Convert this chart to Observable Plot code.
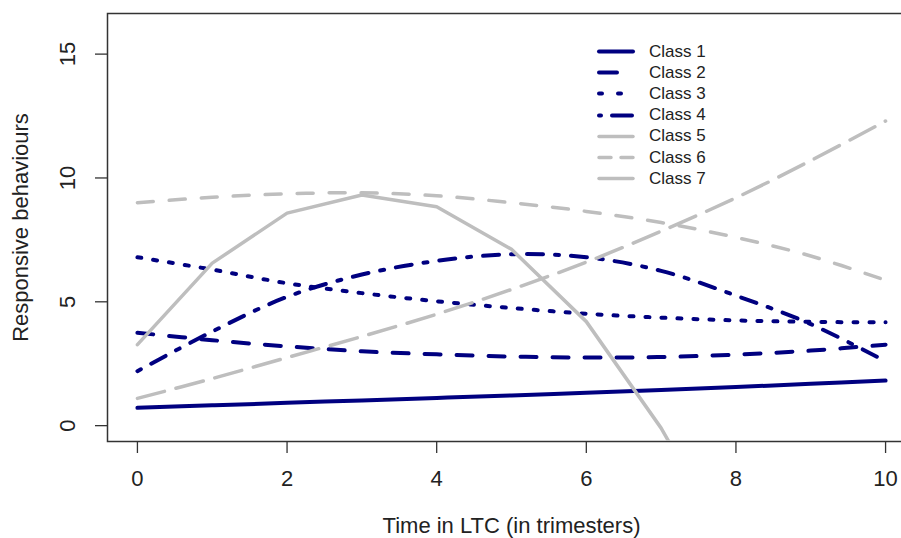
<!DOCTYPE html>
<html>
<head>
<meta charset="utf-8">
<script src="https://cdn.jsdelivr.net/npm/d3@7"></script>
<script src="https://cdn.jsdelivr.net/npm/@observablehq/plot@0.6"></script>
<style>
  html, body { margin: 0; padding: 0; background: #fff; }
  #wrap { position: relative; width: 901px; height: 538px; font-family: "Liberation Sans", Arial, Helvetica, sans-serif; }
  #legend { position: absolute; left: 595px; top: 41px; }
  .row { display: flex; align-items: center; height: 21.2px; }
  .row svg { display: block; margin-right: 12px; }
  .row span { font-size: 17px; color: #222; }
</style>
</head>
<body>
<div id="wrap"><div id="legend"></div></div>
<script>
const times = [0, 1, 2, 3, 4, 5, 6, 7, 8, 9, 10];
const class1 = [0.72, 0.82, 0.92, 1.02, 1.12, 1.22, 1.33, 1.44, 1.56, 1.69, 1.82];
const class2 = [3.75, 3.45, 3.2, 3.0, 2.88, 2.79, 2.75, 2.77, 2.87, 3.03, 3.27];
const class3 = [6.8, 6.3, 5.75, 5.35, 5.02, 4.75, 4.52, 4.36, 4.25, 4.19, 4.17];
const class4 = [2.2, 3.8, 5.2, 6.1, 6.65, 6.92, 6.8, 6.25, 5.25, 4.1, 2.6];
const class5 = [3.27, 6.56, 8.58, 9.31, 8.84, 7.12, 4.2, -0.1, -5.4];
const class6 = [9.0, 9.22, 9.36, 9.4, 9.28, 9.0, 8.65, 8.2, 7.6, 6.85, 5.87];
const class7 = [1.1, 1.9, 2.75, 3.6, 4.5, 5.5, 6.6, 7.85, 9.2, 10.7, 12.3];
const classNames = ["Class 1", "Class 2", "Class 3", "Class 4", "Class 5", "Class 6", "Class 7"];
const xTicks = [0, 2, 4, 6, 8, 10];
const yTicks = [0, 5, 10, 15];

const navy = "#000080";
const grey = "#bebebe";
const series = [class1, class2, class3, class4, class5, class6, class7];
const styles = [
  {stroke: navy, dash: null, legendDash: null, w: 4, curve: "catmull-rom"},
  {stroke: navy, dash: "16,16", legendDash: "18,60", w: 4, curve: "catmull-rom"},
  {stroke: navy, dash: "4,12", legendDash: "3,16,3,60", w: 4, curve: "catmull-rom"},
  {stroke: navy, dash: "4,12,16,12", legendDash: "2,11,20,60", w: 4, curve: "catmull-rom"},
  {stroke: grey, dash: null, legendDash: null, w: 3.5, curve: "linear"},
  {stroke: grey, dash: "16,16", legendDash: "12,10", w: 3.5, curve: "catmull-rom"},
  {stroke: grey, dash: "28,12", legendDash: null, w: 3.5, curve: "catmull-rom"}
];

const marks = series.map((vals, i) => {
  const data = vals.map((v, j) => ({x: times[j], y: v}));
  const s = styles[i];
  return Plot.line(data, {
    x: "x", y: "y", stroke: s.stroke, strokeWidth: s.w,
    strokeDasharray: s.dash || undefined, strokeLinecap: "round", strokeLinejoin: "round",
    curve: s.curve, clip: true
  });
});

const font = "Liberation Sans, Arial, Helvetica, sans-serif";
const chart = Plot.plot({
  width: 901,
  height: 538,
  marginLeft: 107,
  marginRight: -14,
  marginTop: 13,
  marginBottom: 97,
  style: {fontFamily: font, fontSize: "22px", background: "#fff", color: "#222", overflow: "visible"},
  x: {domain: [-0.4, 10.4]},
  y: {domain: [-0.64, 16.64]},
  marks: [
    Plot.frame({stroke: "#333", strokeWidth: 1.5}),
    Plot.axisX(xTicks, {tickSize: 12, tickPadding: 17, fontSize: 22, stroke: "#333", strokeWidth: 1.3,
      label: "Time in LTC (in trimesters)", labelAnchor: "center", labelOffset: 91, labelArrow: "none"}),
    Plot.axisY(yTicks, {tickSize: 12, tickPadding: 21, tickRotate: -90, fontSize: 22, stroke: "#333", strokeWidth: 1.3,
      label: "Responsive behaviours", labelAnchor: "center", labelOffset: 95, labelArrow: "none"}),
    ...marks
  ]
});
document.getElementById("wrap").prepend(chart);

const legend = document.getElementById("legend");
classNames.forEach((name, i) => {
  const s = styles[i];
  const row = document.createElement("div");
  row.className = "row";
  const ns = "http://www.w3.org/2000/svg";
  const svg = document.createElementNS(ns, "svg");
  svg.setAttribute("width", 42); svg.setAttribute("height", 21);
  const ln = document.createElementNS(ns, "line");
  ln.setAttribute("x1", 4); ln.setAttribute("x2", 38);
  ln.setAttribute("y1", 10.5); ln.setAttribute("y2", 10.5);
  ln.setAttribute("stroke", s.stroke); ln.setAttribute("stroke-width", s.w);
  ln.setAttribute("stroke-linecap", "round");
  if (s.legendDash) ln.setAttribute("stroke-dasharray", s.legendDash);
  svg.appendChild(ln);
  const span = document.createElement("span");
  span.textContent = name;
  row.appendChild(svg); row.appendChild(span);
  legend.appendChild(row);
});
</script>
</body>
</html>
